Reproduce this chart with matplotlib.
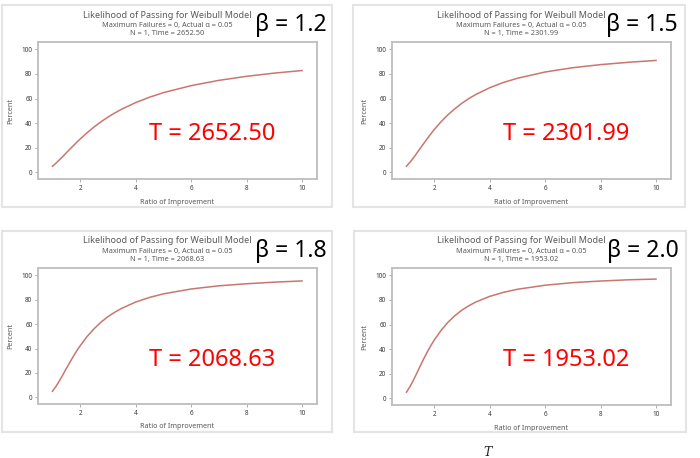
import matplotlib
matplotlib.use("Agg")
import matplotlib.pyplot as plt
from matplotlib.patches import Rectangle

plt.rcParams['font.family'] = ['Noto Sans', 'DejaVu Sans']

# ratio of improvement where the curves were read
ratio = [1, 1.125, 1.25, 1.375, 1.5, 1.625, 1.75, 1.875, 2, 2.25, 2.5, 2.75,
         3, 3.25, 3.5, 4, 4.5, 5, 6, 7, 8, 9, 10]

# percent of passing
pct_b12 = [5, 7.4, 10.1, 12.9, 15.9, 18.8, 21.6, 24.4, 27.1, 32.2, 36.9, 41.1,
           44.9, 48.3, 51.4, 56.7, 61.1, 64.8, 70.5, 74.8, 78.1, 80.7, 82.8]
pct_b15 = [5, 8.1, 11.7, 15.6, 19.6, 23.5, 27.4, 31.1, 34.7, 41.2, 46.9, 51.8,
           56.2, 60.0, 63.3, 68.8, 73.1, 76.5, 81.6, 85.1, 87.6, 89.5, 91.0]
pct_b18 = [5, 8.9, 13.5, 18.5, 23.6, 28.6, 33.5, 38.1, 42.3, 49.9, 56.2, 61.6,
           66.1, 69.8, 73.0, 78.1, 81.9, 84.8, 88.8, 91.4, 93.1, 94.4, 95.4]
pct_b20 = [5, 9.4, 14.7, 20.5, 26.4, 32.2, 37.6, 42.7, 47.3, 55.3, 61.9, 67.3,
           71.7, 75.3, 78.3, 82.9, 86.2, 88.7, 92.0, 94.1, 95.4, 96.4, 97.0]

betas = ["1.2", "1.5", "1.8", "2.0"]
times = ["2652.50", "2301.99", "2068.63", "1953.02"]
series = [pct_b12, pct_b15, pct_b18, pct_b20]

W, H = 700, 458
fig = plt.figure(figsize=(7, 4.58), dpi=100)
fig.patch.set_facecolor('white')


def fx(px):
    return px / W


def fy(py):
    return 1 - py / H


# pixel boxes: outer frame and plot area (left, top, right, bottom)
panels = [
    dict(outer=(2, 5, 332, 207), plot=(38, 42, 317, 179)),
    dict(outer=(353, 5, 685, 207), plot=(392, 42, 671, 179)),
    dict(outer=(2, 231, 332, 432), plot=(38, 268, 317, 404)),
    dict(outer=(354, 231, 686, 432), plot=(392, 268, 671, 405)),
]

grey = '#595959'
for p, beta, t, vals in zip(panels, betas, times, series):
    ox0, oy0, ox1, oy1 = p['outer']
    fig.patches.append(Rectangle((fx(ox0), fy(oy1)), fx(ox1 - ox0), (oy1 - oy0) / H,
                                 transform=fig.transFigure, fill=False,
                                 edgecolor='#e4e4e4', linewidth=1.5))
    x0, y0, x1, y1 = p['plot']
    ax = fig.add_axes([fx(x0), fy(y1), fx(x1 - x0), (y1 - y0) / H])
    ax.plot(ratio, vals, color='#c9766f', linewidth=1.1)
    ax.set_xlim(0.48, 10.54)
    ax.set_ylim(-5.4, 106)
    ax.set_xticks([2, 4, 6, 8, 10])
    ax.set_yticks([0, 20, 40, 60, 80, 100])
    ax.tick_params(labelsize=4.6, length=2, width=0.6, colors='#a0a0a0',
                   labelcolor='#3a3a3a', pad=2)
    for s in ax.spines.values():
        s.set_color('#bdbdbd')
        s.set_linewidth(1.3)
    ax.set_xlabel("Ratio of Improvement", fontsize=5.2, color=grey, labelpad=5)
    ax.set_ylabel("Percent", fontsize=5.2, color=grey, labelpad=5)
    ax.text(4.5, 31, f"T = {t}", color='#ff0000', fontsize=17, ha='left', va='center')

    cx = (x0 + x1) / 2 - 10
    fig.text(fx(cx), fy(oy0 + 10), "Likelihood of Passing for Weibull Model",
             fontsize=6.5, color=grey, ha='center', va='center')
    fig.text(fx(cx), fy(oy0 + 20), "Maximum Failures = 0, Actual α = 0.05",
             fontsize=5.3, color=grey, ha='center', va='center')
    fig.text(fx(cx), fy(oy0 + 29), f"N = 1, Time = {t}",
             fontsize=5.3, color=grey, ha='center', va='center')
    fig.text(fx(ox0 + 253), fy(oy0 + 20), f"β = {beta}", fontsize=16.5,
             color='black', ha='left', va='center')

fig.text(fx(488), fy(452), "T", fontsize=9, family='DejaVu Serif',
         style='italic', color='#222222', ha='center', va='center')

plt.savefig("out.png", dpi=100)
plt.close()
